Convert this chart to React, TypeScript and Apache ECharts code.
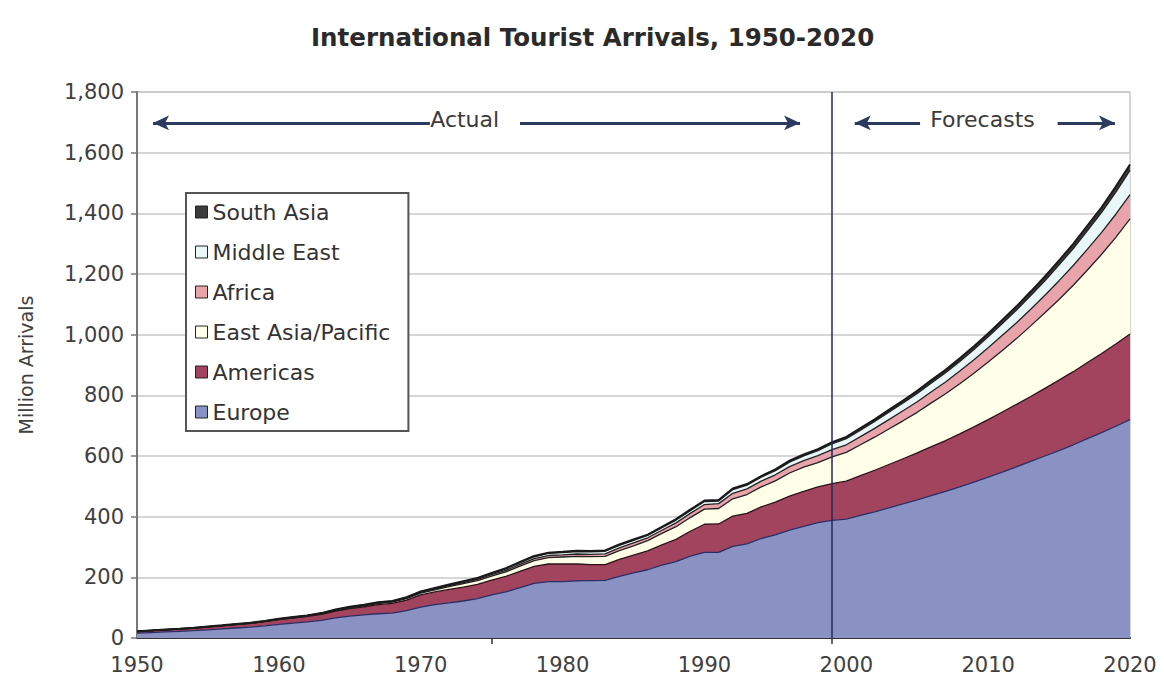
import React, { useEffect, useRef } from "react";
import * as echarts from "echarts";

const YEARS: string[] = Array.from({ length: 71 }, (_, i) => String(1950 + i));

const EUROPE = [
  16, 18, 20, 22, 24, 27, 30, 33, 36, 40,
  45, 49, 53, 58, 66, 72, 76, 80, 82, 90,
  102, 110, 116, 122, 130, 142, 152, 166, 180, 186,
  186, 188, 189, 190, 203, 215, 225, 240, 252, 270,
  282, 282, 302, 310, 328, 340, 356, 368, 380, 388,
  392, 404, 416, 429, 442, 455, 469, 483, 498, 514,
  530, 547, 564, 582, 600, 618, 637, 657, 677, 698, 720,
];
const AMERICAS = [
  5, 6, 6.5, 7, 8, 9, 10, 11, 12, 14,
  16, 17, 18, 20, 23, 25, 27, 30, 32, 35,
  40, 42, 44, 46, 47, 49, 51, 54, 56, 58,
  58, 56, 53, 52, 56, 58, 62, 67, 73, 82,
  93, 94, 100, 101, 104, 108, 112, 115, 118, 121,
  125, 131, 137, 143, 149, 155, 162, 168, 175, 182,
  190, 198, 206, 214, 223, 232, 241, 251, 261, 271, 282,
];
const EAST_ASIA = [
  0.2, 0.3, 0.3, 0.4, 0.5, 0.6, 0.6, 0.6, 0.6, 0.7,
  0.7, 1, 1.3, 1.6, 2, 2.5, 3, 3.5, 4, 5,
  6, 7, 9, 11, 12, 13, 15, 17, 19, 21,
  23, 25, 26, 27, 29, 31, 34, 38, 42, 45,
  50, 51, 57, 62, 66, 70, 76, 80, 80, 88,
  95, 102, 109, 117, 125, 134, 144, 154, 165, 177,
  190, 203, 217, 233, 249, 266, 285, 305, 327, 352, 380,
];
const AFRICA = [
  0.5, 0.5, 0.5, 0.6, 0.6, 0.6, 0.6, 0.7, 0.7, 0.7,
  0.8, 0.9, 1, 1.2, 1.4, 1.6, 1.8, 2, 2.2, 2.3,
  2.4, 2.8, 3.3, 3.8, 4.2, 4.7, 5.2, 5.8, 6.4, 6.9,
  7.2, 8, 7.8, 8.3, 9, 9.7, 9.4, 10.2, 12.5, 13.8,
  15, 16, 18, 18.5, 19, 20, 21, 22, 23, 24,
  25, 27, 29, 31, 33, 35, 37, 39, 42, 44,
  47, 50, 52, 55, 58, 62, 65, 69, 72, 76, 80,
];
const MIDDLE_EAST = [
  0.2, 0.2, 0.3, 0.3, 0.3, 0.4, 0.4, 0.4, 0.5, 0.5,
  0.6, 0.7, 0.8, 0.9, 1.1, 1.3, 1.4, 1.4, 1.5, 1.7,
  1.9, 2.3, 2.8, 3.2, 3.6, 4.2, 5, 5.8, 6.6, 7.1,
  7.5, 8.2, 8.5, 8.9, 8.6, 8.4, 7.8, 8.6, 9.4, 9.2,
  10, 8.7, 12.3, 12.6, 13, 13.5, 15.1, 15.2, 17, 19.5,
  20, 21.5, 23, 24.5, 26, 27.5, 29, 30.5, 32, 34,
  36, 39, 42, 45, 48, 52, 56, 61, 66, 73, 80,
];
const SOUTH_ASIA = [
  0.1, 0.1, 0.1, 0.1, 0.1, 0.1, 0.1, 0.2, 0.2, 0.2,
  0.2, 0.3, 0.3, 0.4, 0.4, 0.5, 0.5, 0.6, 0.7, 0.8,
  0.9, 1, 1.1, 1.3, 1.5, 1.6, 1.8, 2, 2.2, 2.3,
  2.3, 2.4, 2.4, 2.4, 2.5, 2.5, 2.6, 2.8, 3, 3.1,
  3.2, 3, 3.4, 3.6, 3.9, 4.2, 4.4, 4.7, 4.8, 5.2,
  6, 6.5, 7, 7.5, 8, 8.5, 9, 9.5, 10, 10.5,
  11, 11.7, 12.4, 13.1, 13.8, 14.6, 15.4, 16.2, 17.1, 18, 19,
];

const REGIONS = ["Europe", "Americas", "East Asia/Pacific", "Africa", "Middle East", "South Asia"];
const LEGEND_ORDER = ["South Asia", "Middle East", "Africa", "East Asia/Pacific", "Americas", "Europe"];
const REGION_VALUES = [EUROPE, AMERICAS, EAST_ASIA, AFRICA, MIDDLE_EAST, SOUTH_ASIA];
const FILLS = ["#8a92c3", "#a3445f", "#ffffe9", "#e8a3ab", "#eaf7f8", "#3c3c3c"];
const EDGES = ["#2b2e66", "#2a1018", "#222222", "#222222", "#222222", "#1a1a1a"];
const EDGE_WIDTHS = [1.3, 1.3, 1.3, 1.3, 1.4, 2];

const TICK_YEARS = ["1975", "1999"];
const FORECAST_START = 1999;
const ARROW_Y = 1698;
const TEXT_Y = 1708;
const ACTUAL_LEFT = [1951.13, 1970.65];
const ACTUAL_RIGHT = [1977.0, 1996.74];
const FORECAST_LEFT = [2000.6, 2005.2];
const FORECAST_RIGHT = [2014.9, 2018.94];
const ACTUAL_LABEL_X = 1973.1;
const FORECAST_LABEL_X = 2009.6;

const FONT = "DejaVu Sans";

export default function App() {
  const ref = useRef<HTMLDivElement>(null);

  useEffect(() => {
    if (!ref.current) return;
    const chart = echarts.init(ref.current, null, { renderer: "svg" });

    const areaSeries = REGIONS.map((name, k) => ({
      name,
      type: "line",
      stack: "total",
      symbol: "none",
      showSymbol: false,
      color: FILLS[k],
      itemStyle: { color: FILLS[k] },
      lineStyle: { color: EDGES[k], width: EDGE_WIDTHS[k] },
      areaStyle: { color: FILLS[k], opacity: 1 },
      data: REGION_VALUES[k],
      xAxisIndex: 0,
      z: 2,
    }));

    const arrowStyle = { color: "#2b3a5e", width: 3, type: "solid" };

    const arrows = {
      name: "arrows",
      type: "line",
      xAxisIndex: 1,
      data: [],
      z: 5,
      markLine: {
        silent: true,
        animation: false,
        label: { show: false },
        symbolSize: [11, 16],
        data: [
          [
            { coord: [ACTUAL_LEFT[0], ARROW_Y], symbol: "arrow", lineStyle: arrowStyle },
            { coord: [ACTUAL_LEFT[1], ARROW_Y], symbol: "none" },
          ],
          [
            { coord: [ACTUAL_RIGHT[0], ARROW_Y], symbol: "none", lineStyle: arrowStyle },
            { coord: [ACTUAL_RIGHT[1], ARROW_Y], symbol: "arrow" },
          ],
          [
            { coord: [FORECAST_LEFT[0], ARROW_Y], symbol: "arrow", lineStyle: arrowStyle },
            { coord: [FORECAST_LEFT[1], ARROW_Y], symbol: "none" },
          ],
          [
            { coord: [FORECAST_RIGHT[0], ARROW_Y], symbol: "none", lineStyle: arrowStyle },
            { coord: [FORECAST_RIGHT[1], ARROW_Y], symbol: "arrow" },
          ],
        ],
      },
      markPoint: {
        silent: true,
        animation: false,
        symbol: "rect",
        symbolSize: 1,
        itemStyle: { color: "transparent" },
        label: {
          show: true,
          position: "inside",
          color: "#3a3a3a",
          fontFamily: FONT,
          fontSize: 22,
        },
        data: [
          { coord: [ACTUAL_LABEL_X, TEXT_Y], label: { formatter: "Actual" } },
          { coord: [FORECAST_LABEL_X, TEXT_Y], label: { formatter: "Forecasts" } },
        ],
      },
    };

    const divider = {
      name: "divider",
      type: "line",
      xAxisIndex: 1,
      data: [],
      z: 5,
      markLine: {
        silent: true,
        animation: false,
        symbol: ["none", "none"],
        label: { show: false },
        lineStyle: { color: "#1e2a5e", width: 1.5, type: "solid" },
        data: [{ xAxis: FORECAST_START }],
      },
    };

    chart.setOption({
      animation: false,
      backgroundColor: "#ffffff",
      title: {
        text: "International Tourist Arrivals, 1950-2020",
        left: 306,
        top: 20,
        textStyle: {
          fontFamily: FONT,
          fontWeight: "bold",
          fontSize: 24.5,
          color: "#2a2a2a",
        },
      },
      legend: {
        data: LEGEND_ORDER,
        orient: "vertical",
        left: 186,
        top: 193,
        padding: [8, 18, 8, 9],
        itemGap: 18,
        itemWidth: 12,
        itemHeight: 12,
        icon: "rect",
        backgroundColor: "#ffffff",
        borderColor: "#555555",
        borderWidth: 2,
        itemStyle: { borderColor: "#222222", borderWidth: 1 },
        textStyle: {
          fontFamily: FONT,
          fontSize: 22,
          lineHeight: 22,
          color: "#333333",
        },
        selectedMode: false,
      },
      grid: {
        left: 137,
        right: 34,
        top: 92,
        bottom: 47,
        show: true,
        borderColor: "#aaaaaa",
        borderWidth: 1,
      },
      xAxis: [
        {
          type: "category",
          data: YEARS,
          boundaryGap: false,
          axisLine: { show: true, lineStyle: { color: "#333333", width: 2 } },
          axisTick: {
            show: true,
            interval: (_i: number, v: string) => TICK_YEARS.indexOf(v) >= 0,
            length: 6,
            lineStyle: { color: "#333333", width: 1.5 },
          },
          axisLabel: {
            interval: 9,
            fontFamily: FONT,
            fontSize: 21,
            color: "#404040",
            margin: 16,
          },
          splitLine: { show: false },
        },
        {
          type: "value",
          min: 1950,
          max: 2020,
          show: false,
          splitLine: { show: false },
        },
      ],
      yAxis: {
        type: "value",
        min: 0,
        max: 1800,
        interval: 200,
        name: "Million Arrivals",
        nameLocation: "middle",
        nameGap: 102,
        nameRotate: 90,
        nameTextStyle: { fontFamily: FONT, fontSize: 19, color: "#404040" },
        axisLine: { show: true, lineStyle: { color: "#777777", width: 2 } },
        axisTick: { show: true, length: 6, lineStyle: { color: "#777777", width: 1.5 } },
        axisLabel: {
          fontFamily: FONT,
          fontSize: 21,
          color: "#404040",
          margin: 13,
          formatter: (v: number) => v.toLocaleString("en-US"),
        },
        splitLine: { show: true, lineStyle: { color: "#c8c8c8", width: 1.5 } },
      },
      series: [...areaSeries, arrows, divider],
    });

    return () => {
      chart.dispose();
    };
  }, []);

  return (
    <div
      ref={ref}
      style={{ position: "fixed", left: 0, top: 0, width: 1164, height: 685, background: "#fff" }}
    />
  );
}
